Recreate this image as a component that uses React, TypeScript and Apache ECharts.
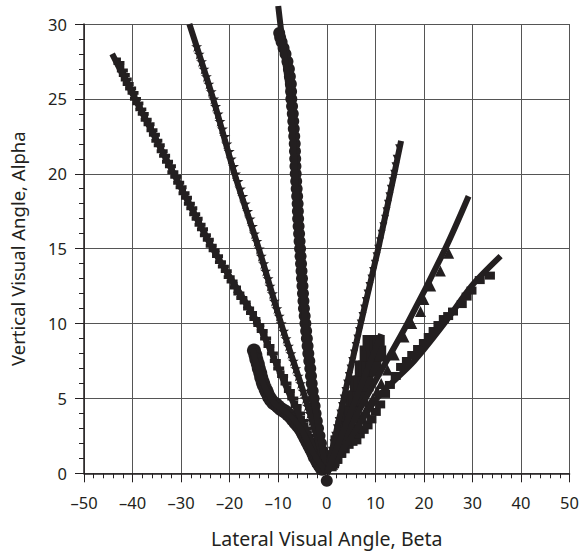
import React, { useEffect, useRef } from "react";
import * as echarts from "echarts";

const INK = "#231f20";

// Tick values
const xTicks = [-50, -40, -30, -20, -10, 0, 10, 20, 30, 40, 50];
const yTicks = [0, 5, 10, 15, 20, 25, 30];

// Series A (plus markers) and its fit
const plusPts: number[][] = [
  [-0.7, 0.5], [-1.4, 1], [-2.1, 1.5], [-2.8, 2], [-3.5, 2.5], [-4.2, 3], [-4.9, 3.5], [-5.6, 4], [-6.3, 4.5],
  [-7, 5], [-7.7, 5.5], [-8.4, 6], [-9.1, 6.5], [-9.9, 7], [-10.6, 7.5], [-11.2, 8], [-11.9, 8.5], [-12.6, 9],
  [-13.3, 9.5], [-14, 9.9], [-14.8, 10.3], [-15.5, 10.7], [-16.1, 11], [-16.8, 11.4], [-17.5, 11.7],
  [-18.1, 12], [-18.8, 12.4], [-19.5, 12.8], [-20.1, 13.1], [-20.7, 13.5], [-21.3, 13.8], [-21.9, 14.1],
  [-22.5, 14.5], [-23.2, 14.9], [-23.8, 15.2], [-24.4, 15.6], [-25, 15.9], [-25.6, 16.3], [-26.1, 16.6],
  [-26.7, 17], [-27.2, 17.3], [-27.8, 17.7], [-28.3, 18], [-28.9, 18.4], [-29.4, 18.7], [-30, 19.1],
  [-30.5, 19.4], [-31.1, 19.8], [-31.7, 20.1], [-32.2, 20.5], [-32.8, 20.8], [-33.4, 21.2], [-33.9, 21.5],
  [-34.5, 21.9], [-35, 22.2], [-35.5, 22.6], [-36, 22.9], [-36.6, 23.3], [-37.2, 23.6], [-37.8, 24],
  [-38.3, 24.3], [-38.9, 24.7], [-39.4, 25], [-39.9, 25.4], [-40.4, 25.7], [-40.9, 26], [-41.3, 26.3],
  [-41.7, 26.6], [-42.1, 26.9], [-42.8, 27.4],
];
const plusFit: number[][] = [[0, 0], [-7.3, 5], [-14.2, 10], [-23.5, 15], [-31.5, 20], [-39.5, 25], [-44.2, 28]];

// Series B (stars)
const starPts: number[][] = [
  [-0.8, 1], [-1.2, 1.5], [-1.7, 2], [-2.2, 2.5], [-2.6, 3], [-3.1, 3.5], [-3.5, 4], [-4, 4.5], [-4.4, 5],
  [-4.9, 5.5], [-5.4, 6], [-5.9, 6.5], [-6.4, 7], [-6.9, 7.5], [-7.4, 8], [-7.9, 8.5], [-8.4, 9],
  [-8.9, 9.5], [-9.4, 10], [-9.8, 10.5], [-10.3, 11], [-10.8, 11.5], [-11.2, 12], [-11.7, 12.5],
  [-12.1, 13], [-12.6, 13.5], [-13, 14], [-13.5, 14.5], [-13.9, 15], [-14.4, 15.5], [-14.9, 16],
  [-15.3, 16.5], [-15.8, 17], [-16.3, 17.5], [-16.8, 18], [-17.3, 18.5], [-17.8, 19], [-18.3, 19.5],
  [-18.8, 20], [-19.2, 20.5], [-19.7, 21], [-20.1, 21.5], [-20.6, 22], [-21, 22.5], [-21.5, 23],
  [-22, 23.5], [-22.4, 24], [-22.9, 24.5], [-23.3, 25], [-23.8, 25.5], [-24.3, 26], [-24.8, 26.5],
  [-25.3, 27], [-25.8, 27.5], [-26.3, 28], [-26.8, 28.5],
];
const starFit: number[][] = [[0, 0], [-4.4, 5], [-9.4, 10], [-14, 15], [-19, 20], [-23.4, 25], [-28.3, 30]];

// Series C (circles, near vertical)
const circlePts: number[][] = [
  [0, -0.5], [-0.3, 0.5], [-0.6, 1], [-0.9, 1.5], [-1.2, 2], [-1.5, 2.5], [-1.8, 3], [-2.05, 3.5], [-2.3, 4],
  [-2.5, 4.5], [-2.7, 5], [-2.9, 5.5], [-3.1, 6], [-3.25, 6.5], [-3.4, 7], [-3.6, 7.5], [-3.8, 8],
  [-3.95, 8.5], [-4.1, 9], [-4.25, 9.5], [-4.4, 10], [-4.55, 10.5], [-4.7, 11], [-4.8, 11.5], [-4.9, 12],
  [-5, 12.5], [-5.1, 13], [-5.2, 13.5], [-5.3, 14], [-5.4, 14.5], [-5.5, 15], [-5.6, 15.5], [-5.7, 16],
  [-5.8, 16.5], [-5.9, 17], [-5.95, 17.5], [-6, 18], [-6.1, 18.5], [-6.2, 19], [-6.3, 19.5], [-6.4, 20],
  [-6.45, 20.5], [-6.5, 21], [-6.55, 21.5], [-6.6, 22], [-6.7, 22.5], [-6.8, 23], [-6.9, 23.5], [-7, 24],
  [-7.15, 24.5], [-7.3, 25], [-7.35, 25.5], [-7.4, 26], [-7.6, 26.5], [-7.8, 27], [-8.1, 27.5], [-8.5, 28],
  [-8.9, 28.4], [-9.3, 28.8], [-9.6, 29.1], [-9.8, 29.4],
];
const circleFit: number[][] = [[0, 0], [-2.7, 5], [-4.4, 10], [-5.6, 15], [-6.5, 20], [-7.6, 25], [-9.2, 29], [-10, 31.2]];

// Series D (circles, lower-left curve)
const curvePts: number[][] = [
  [-15, 8.2], [-14.7, 7.9], [-14.5, 7.6], [-14.2, 7.3], [-14, 7], [-13.7, 6.7], [-13.5, 6.4], [-13.2, 6.1],
  [-13, 5.9], [-12.6, 5.6], [-12.3, 5.4], [-11.9, 5.1], [-11.5, 4.9], [-11, 4.7], [-10.5, 4.6], [-10, 4.45],
  [-9.5, 4.3], [-9, 4.2], [-8.5, 4.1], [-8, 3.95], [-7.5, 3.8], [-7, 3.6], [-6.5, 3.4], [-6, 3.2], [-5.5, 3],
  [-5.1, 2.8], [-4.8, 2.6], [-4.4, 2.35], [-4, 2.1], [-3.6, 1.85], [-3.2, 1.6], [-2.8, 1.35], [-2.5, 1.1],
  [-2.1, 0.9], [-1.8, 0.7], [-1.4, 0.5], [-1, 0.3],
];
const curveFit: number[][] = [[-15.3, 8.3], [-13.6, 6.4], [-10.9, 4.7], [-8, 4], [-5.4, 3], [-2.7, 1.3], [0, 0]];

// Series E (steep right, down triangles)
const downPts: number[][] = [
  [0.7, 1], [1.05, 1.5], [1.4, 2], [1.75, 2.5], [2.1, 3], [2.45, 3.5], [2.8, 4], [3.15, 4.5], [3.5, 5],
  [3.85, 5.5], [4.2, 6], [4.55, 6.5], [4.9, 7], [5.25, 7.5], [5.6, 8], [5.95, 8.5], [6.3, 9], [6.65, 9.5],
  [7, 10], [7.35, 10.5], [7.7, 11], [8.05, 11.5], [8.4, 12], [8.8, 12.5], [9.2, 13], [9.55, 13.5],
  [9.9, 14], [10.25, 14.5], [10.6, 15], [10.95, 15.5], [11.3, 16], [11.65, 16.5], [12, 17], [12.3, 17.5],
  [12.6, 18], [12.9, 18.5], [13.2, 19], [13.55, 19.5], [13.9, 20], [14.15, 20.5], [14.4, 21], [14.9, 21.7],
];
const downFit: number[][] = [[0, 0], [3.5, 5], [7, 10], [10.6, 15], [13.9, 20], [15.3, 22.2]];

// Series F (up triangles)
const triPts: number[][] = [
  [1.2, 0.6], [2, 1], [2.8, 1.4], [3.5, 1.8], [4.2, 2.2], [5, 2.6], [5.8, 3], [6.5, 3.4], [7.2, 3.8],
  [8, 4.2], [8.8, 4.6], [9.5, 5], [10.4, 5.5], [11.2, 6], [12.5, 6.9], [13.9, 7.9], [15.9, 9.1],
  [17.5, 10], [19.3, 10.8], [20, 11.6], [21.4, 12.5], [23.4, 13.5], [25.1, 14.7],
];
const triFit: number[][] = [[0, 0], [8, 5], [16.6, 10], [24.4, 15], [29.2, 18.5]];

// Series G (rectangles, lowest right)
const rectPts: number[][] = [
  [1, 0.4], [1.5, 0.6], [2.2, 0.9], [3, 1.3], [3.7, 1.6], [4.5, 1.9], [5.3, 2.1], [6.1, 2.2], [6.8, 2.6],
  [7.6, 2.9], [8.4, 3.2], [9.2, 3.6], [10.1, 4.1], [11, 4.6], [12, 5.3], [13, 5.9], [14.2, 6.5],
  [15.3, 7.1], [16.5, 7.5], [17.6, 7.9], [18.8, 8.3], [20, 8.7], [21, 9.1], [22, 9.5], [23, 9.9],
  [24.1, 10.3], [25, 10.5], [26, 10.8], [27.8, 11.3], [28.8, 11.8], [29.8, 12.2], [31.5, 12.9],
  [33.6, 13.2],
];
const rectFit: number[][] = [[0, 0], [5, 2.4], [10.3, 5], [18, 7.5], [24.2, 10], [29.8, 12.5], [35.8, 14.5]];

// Series H (squares, dense wedge)
const squarePts: number[][] = [
  [1, 1], [1.4, 1], [2, 2], [2.6, 2], [3, 2], [3, 3], [3.7, 3], [4.4, 3], [4, 4], [4.8, 4], [5.6, 4],
  [5, 5], [5.8, 5], [6.6, 5], [7.3, 5], [6, 6], [6.8, 6], [7.6, 6], [8.4, 6], [7, 7], [7.7, 7], [8.4, 7],
  [9.2, 7], [10, 7], [8, 8], [8.7, 8], [9.4, 8], [10.2, 8], [11, 8], [8.6, 8.7], [9.3, 8.7], [10, 8.7],
  [10.7, 8.7],
];
const squareFit: number[][] = [[0, 0], [11.2, 9.3]];

const PLUS = "path://M3.2,0H6.8V3.2H10V6.8H6.8V10H3.2V6.8H0V3.2H3.2Z";
const STAR = "path://M50,0L61,35L98,35L68,57L79,91L50,70L21,91L32,57L2,35L39,35Z";
const DOWN = "path://M0,0L10,0L5,9Z";

function scatter(data: number[][], symbol: string, size: number | number[]) {
  return {
    type: "scatter",
    data,
    symbol,
    symbolSize: size,
    itemStyle: { color: INK, opacity: 1 },
    clip: false,
    z: 3,
  };
}
function fit(data: number[][]) {
  return {
    type: "line",
    data,
    showSymbol: false,
    symbol: "none",
    smooth: 0.3,
    lineStyle: { color: INK, width: 6 },
    clip: false,
    z: 4,
  };
}

const fmt = (v: number) => String(v).replace("-", "\u2013");

export default function App() {
  const ref = useRef<HTMLDivElement>(null);
  useEffect(() => {
    if (!ref.current) return;
    const chart = echarts.init(ref.current, null, { renderer: "svg" });
    const font = "'Noto Sans', sans-serif";
    chart.setOption({
      animation: false,
      backgroundColor: "#ffffff",
      textStyle: { fontFamily: font, color: INK },
      grid: { left: 80.7, right: 10, top: 24, bottom: 80.7, containLabel: false },
      xAxis: {
        type: "value",
        min: xTicks[0],
        max: xTicks[xTicks.length - 1],
        interval: 10,
        name: "Lateral Visual Angle, Beta",
        nameLocation: "middle",
        nameGap: 55,
        nameTextStyle: { fontSize: 19.5, color: INK, fontFamily: font },
        axisLine: { onZero: false, lineStyle: { color: INK, width: 1.5 } },
        axisTick: { show: true, length: 9, lineStyle: { color: INK, width: 1 } },
        minorTick: { show: true, splitNumber: 5, length: 5, lineStyle: { color: INK, width: 1 } },
        axisLabel: { formatter: fmt, fontSize: 16.5, color: INK, margin: 21, fontFamily: font },
        splitLine: { show: true, lineStyle: { color: "#555555", width: 1 } },
      },
      yAxis: {
        type: "value",
        min: yTicks[0],
        max: yTicks[yTicks.length - 1],
        interval: 5,
        name: "Vertical Visual Angle, Alpha",
        nameLocation: "middle",
        nameGap: 57,
        nameTextStyle: { fontSize: 18.5, color: INK, fontFamily: font },
        axisLine: { show: true, onZero: false, lineStyle: { color: INK, width: 1.5 } },
        axisTick: { show: true, length: 9, lineStyle: { color: INK, width: 1 } },
        minorTick: { show: true, splitNumber: 5, length: 5, lineStyle: { color: INK, width: 1 } },
        axisLabel: { fontSize: 16.5, color: INK, margin: 17, fontFamily: font },
        splitLine: { show: true, lineStyle: { color: "#555555", width: 1 } },
      },
      series: [
        scatter(plusPts, PLUS, 11),
        fit(plusFit),
        scatter(starPts, STAR, 11),
        fit(starFit),
        scatter(circlePts, "circle", 12),
        fit(circleFit),
        scatter(curvePts, "circle", 14),
        fit(curveFit),
        scatter(downPts, DOWN, 8),
        fit(downFit),
        scatter(triPts, "triangle", 11),
        fit(triFit),
        scatter(rectPts, "rect", [10, 8]),
        fit(rectFit),
        scatter(squarePts, "rect", [12, 16]),
        fit(squareFit),
      ],
    });
    return () => chart.dispose();
  }, []);
  return <div ref={ref} style={{ position: "absolute", left: 0, top: 0, width: 582, height: 554 }} />;
}
